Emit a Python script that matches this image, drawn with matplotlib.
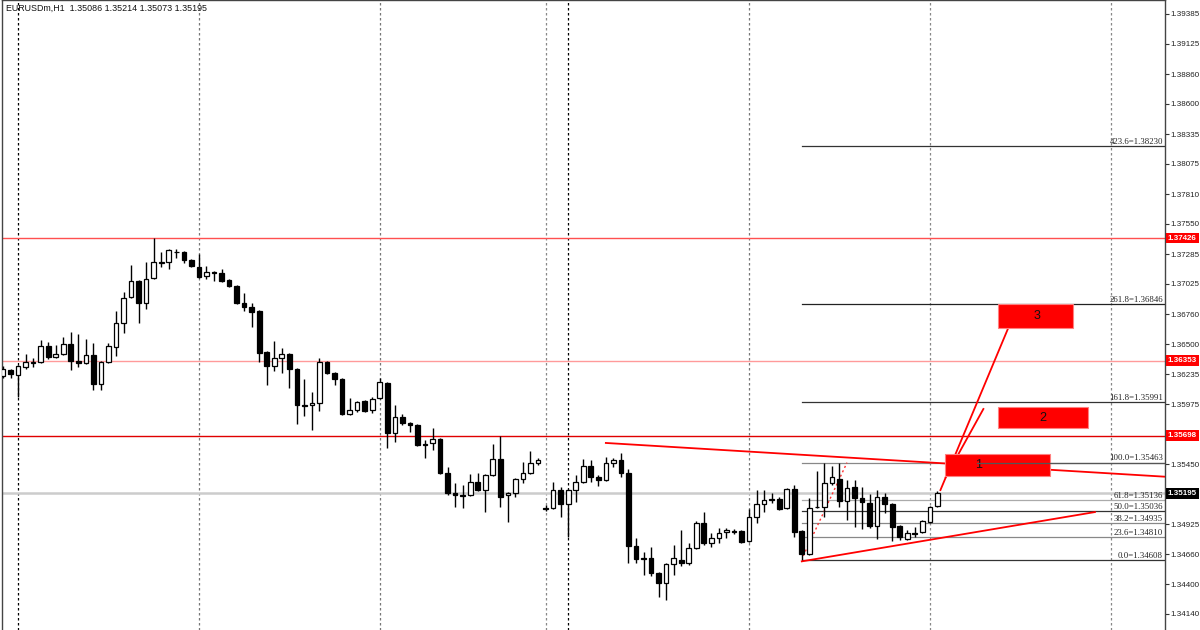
import numpy as np
import matplotlib
matplotlib.use('Agg')
import matplotlib.pyplot as plt
import matplotlib.transforms as mtransforms
from matplotlib.patches import Rectangle

plt.rcParams['font.family'] = ['Liberation Sans', 'DejaVu Sans']

symbol_title = "EURUSDm,H1  1.35086 1.35214 1.35073 1.35195"

opens = [1.36221, 1.36273, 1.36229, 1.36299, 1.36338, 1.36343, 1.36483, 1.36386, 1.36412, 1.36500,
         1.36351, 1.36334, 1.36403, 1.36150, 1.36343, 1.36474, 1.36684, 1.36911, 1.37051, 1.36859,
         1.37077, 1.37212, 1.37217, 1.37304, 1.37304, 1.37234, 1.37173, 1.37095, 1.37130, 1.37121,
         1.37060, 1.37008, 1.36859, 1.36824, 1.36788, 1.36430, 1.36308, 1.36377, 1.36412, 1.36281,
         1.35966, 1.35966, 1.35984, 1.36343, 1.36247, 1.36194, 1.35888, 1.35923, 1.36001, 1.35923,
         1.36028, 1.36159, 1.35722, 1.35862, 1.35809, 1.35792, 1.35626, 1.35634, 1.35669, 1.35372,
         1.35197, 1.35180, 1.35180, 1.35294, 1.35223, 1.35355, 1.35495, 1.35180, 1.35197, 1.35320,
         1.35372, 1.35460, 1.35066, 1.35066, 1.35223, 1.35101, 1.35223, 1.35294, 1.35433, 1.35337,
         1.35311, 1.35460, 1.35486, 1.35372, 1.34734, 1.34629, 1.34629, 1.34498, 1.34410, 1.34576,
         1.34611, 1.34585, 1.34716, 1.34935, 1.34760, 1.34804, 1.34856, 1.34865, 1.34865, 1.34778,
         1.34988, 1.35101, 1.35145, 1.35145, 1.35066, 1.35232, 1.34865, 1.34664, 1.35075, 1.35075,
         1.35285, 1.35320, 1.35127, 1.35250, 1.35153, 1.35110, 1.34909, 1.35162, 1.35101, 1.34909,
         1.34795, 1.34848, 1.34856, 1.34944, 1.35086]
highs = [1.36308, 1.36281, 1.36316, 1.36412, 1.36377, 1.36535, 1.36518, 1.36491, 1.36561, 1.36605,
         1.36587, 1.36544, 1.36509, 1.36351, 1.36509, 1.36788, 1.36955, 1.37190, 1.37060, 1.37217,
         1.37426, 1.37304, 1.37330, 1.37330, 1.37313, 1.37243, 1.37287, 1.37182, 1.37138, 1.37156,
         1.37069, 1.37016, 1.36946, 1.36859, 1.36797, 1.36438, 1.36526, 1.36465, 1.36421, 1.36290,
         1.36194, 1.36080, 1.36377, 1.36351, 1.36255, 1.36203, 1.36028, 1.36001, 1.36010, 1.36037,
         1.36203, 1.36168, 1.35966, 1.35888, 1.35818, 1.35800, 1.35661, 1.35765, 1.35678, 1.35424,
         1.35285, 1.35267, 1.35363, 1.35372, 1.35363, 1.35626, 1.35696, 1.35206, 1.35328, 1.35468,
         1.35564, 1.35503, 1.35093, 1.35294, 1.35250, 1.35232, 1.35355, 1.35495, 1.35486, 1.35355,
         1.35512, 1.35503, 1.35547, 1.35407, 1.34804, 1.34681, 1.34725, 1.34506, 1.34585, 1.34743,
         1.34874, 1.34760, 1.34952, 1.35031, 1.34848, 1.34891, 1.34891, 1.34883, 1.34874, 1.35058,
         1.35223, 1.35223, 1.35197, 1.35162, 1.35241, 1.35267, 1.34874, 1.35153, 1.35390, 1.35463,
         1.35433, 1.35460, 1.35311, 1.35311, 1.35250, 1.35188, 1.35223, 1.35197, 1.35110, 1.34918,
         1.34874, 1.34900, 1.34961, 1.35084, 1.35214]
lows = [1.36203, 1.36203, 1.36037, 1.36281, 1.36299, 1.36334, 1.36369, 1.36377, 1.36403, 1.36273,
        1.36299, 1.36325, 1.36098, 1.36098, 1.36334, 1.36395, 1.36596, 1.36902, 1.36684, 1.36806,
        1.37069, 1.37173, 1.37156, 1.37252, 1.37208, 1.37173, 1.37077, 1.37069, 1.37051, 1.37043,
        1.36999, 1.36850, 1.36788, 1.36649, 1.36343, 1.36141, 1.36264, 1.36247, 1.36115, 1.35800,
        1.35870, 1.35748, 1.35914, 1.36238, 1.36141, 1.35879, 1.35879, 1.35905, 1.35905, 1.35896,
        1.36019, 1.35591, 1.35643, 1.35792, 1.35731, 1.35608, 1.35503, 1.35573, 1.35363, 1.35180,
        1.35075, 1.35066, 1.35171, 1.35215, 1.35031, 1.35346, 1.35075, 1.34944, 1.35162, 1.35285,
        1.35363, 1.35442, 1.35040, 1.35058, 1.34988, 1.34813, 1.35118, 1.35285, 1.35294, 1.35258,
        1.35302, 1.35424, 1.35337, 1.34585, 1.34585, 1.34480, 1.34471, 1.34288, 1.34262, 1.34480,
        1.34559, 1.34568, 1.34708, 1.34743, 1.34725, 1.34760, 1.34804, 1.34839, 1.34760, 1.34769,
        1.34935, 1.35031, 1.35110, 1.35049, 1.35058, 1.34813, 1.34608, 1.34655, 1.35066, 1.34988,
        1.35267, 1.35075, 1.34961, 1.34900, 1.34883, 1.34891, 1.34795, 1.35023, 1.34778, 1.34786,
        1.34786, 1.34813, 1.34848, 1.34935, 1.35073]
closes = [1.36281, 1.36238, 1.36308, 1.36343, 1.36343, 1.36483, 1.36386, 1.36412, 1.36500, 1.36351,
          1.36334, 1.36403, 1.36150, 1.36343, 1.36483, 1.36684, 1.36902, 1.37051, 1.36859, 1.37069,
          1.37217, 1.37217, 1.37322, 1.37300, 1.37234, 1.37182, 1.37086, 1.37130, 1.37125, 1.37051,
          1.37008, 1.36859, 1.36824, 1.36780, 1.36421, 1.36308, 1.36377, 1.36412, 1.36281, 1.35966,
          1.35962, 1.35984, 1.36343, 1.36247, 1.36194, 1.35888, 1.35923, 1.35993, 1.35914, 1.36019,
          1.36168, 1.35722, 1.35862, 1.35809, 1.35796, 1.35617, 1.35621, 1.35669, 1.35372, 1.35197,
          1.35180, 1.35175, 1.35294, 1.35223, 1.35355, 1.35495, 1.35162, 1.35197, 1.35320, 1.35372,
          1.35460, 1.35486, 1.35062, 1.35223, 1.35101, 1.35223, 1.35294, 1.35433, 1.35337, 1.35311,
          1.35460, 1.35486, 1.35372, 1.34734, 1.34620, 1.34624, 1.34498, 1.34410, 1.34576, 1.34629,
          1.34585, 1.34716, 1.34935, 1.34760, 1.34804, 1.34848, 1.34874, 1.34861, 1.34769, 1.34988,
          1.35101, 1.35136, 1.35132, 1.35058, 1.35232, 1.34856, 1.34664, 1.35066, 1.35071, 1.35285,
          1.35337, 1.35127, 1.35241, 1.35153, 1.35118, 1.34909, 1.35162, 1.35101, 1.34900, 1.34813,
          1.34848, 1.34843, 1.34952, 1.35075, 1.35195]

price_ticks = [1.39385, 1.39125, 1.38860, 1.38600, 1.38335, 1.38075, 1.37810, 1.37550, 1.37285,
               1.37025, 1.36760, 1.36500, 1.36235, 1.35975, 1.35450, 1.34925, 1.34660, 1.34400, 1.34140]

# horizontal levels: price, line colour
h_levels = [1.37426, 1.36353, 1.35698]
h_colors = ['#ff5050', '#ff9a9a', '#e00000']
bid_price = 1.35195

# fibonacci expansion from swing low to swing high
fib_low_bar, fib_high_bar = 106, 112
fib_names = ['0.0', '23.6', '38.2', '50.0', '61.8', '100.0', '161.8', '261.8', '423.6']
fib_prices = [1.34608, 1.34810, 1.34935, 1.35036, 1.35136, 1.35463, 1.35991, 1.36846, 1.38230]
fib_colors = ['#333333', '#888888', '#888888', '#333333', '#aaaaaa', '#888888', '#333333', '#222222', '#333333']

# grid / day separators (bar index)
sep_bars = [2, 26, 50, 72, 75, 99, 123, 147]
sep_colors = ['#000000', '#777777', '#777777', '#888888', '#000000', '#777777', '#888888', '#888888']

# trend lines (bar, price) pairs
resist_line = [(80, 1.35635), (154.2, 1.35340)]
support_line = [(106, 1.34600), (144.9, 1.35031)]
target_lines = [[(124.4, 1.35223), (133.4, 1.36640)],
                [(125.1, 1.35337), (130.1, 1.35932)]]

# target boxes: label, bar from, bar to, price low, price high, text bar
boxes = [('1', 125.0, 139.0, 1.35346, 1.35538, 129.4),
         ('2', 132.0, 144.0, 1.35765, 1.35949, 138.0),
         ('3', 132.0, 142.0, 1.36640, 1.36850, 137.2)]

fig = plt.figure(figsize=(12, 6.3), dpi=100)
ax = fig.add_axes([2 / 1200, 0, 1163 / 1200, 1])
ax.set_xlim(-0.13, 154.2)
ax.set_ylim(1.34000, 1.39507)

o = np.array(opens)
h = np.array(highs)
l = np.array(lows)
c = np.array(closes)
x = np.arange(len(o))

for sb, sc in zip(sep_bars, sep_colors):
    ax.axvline(sb, color=sc, lw=0.9, ls=(0, (2, 2)), zorder=1)

for lv, col in zip(h_levels, h_colors):
    ax.axhline(lv, color=col, lw=1, zorder=1)
ax.axhline(bid_price, color='#cccccc', lw=1.8, zorder=1)

# fib levels
for name, fp, fc in zip(fib_names, fib_prices, fib_colors):
    ax.plot([fib_low_bar, 154.2], [fp, fp], color=fc, lw=0.9, zorder=2)
    ax.text(153.95, fp + 0.00004, f"{name}={fp:.5f}", ha='right', va='bottom',
            fontsize=6.3, family='Liberation Serif', color='#222222', zorder=3)
ax.plot([fib_low_bar + 0.2, fib_high_bar], [fib_prices[0] + 0.0004, fib_prices[5]],
        color='#ff3030', lw=1, ls=(0, (1.5, 2)), zorder=3)

# candles
up = c >= o
ax.vlines(x, l, h, color='black', lw=1, zorder=4)
body_lo = np.minimum(o, c)
body_h = np.maximum(np.abs(c - o), 0.000015)
ax.bar(x[up], body_h[up], bottom=body_lo[up], width=0.62, color='white',
       edgecolor='black', lw=0.9, zorder=5)
ax.bar(x[~up], body_h[~up], bottom=body_lo[~up], width=0.62, color='black',
       edgecolor='black', lw=0.9, zorder=5)

# trend lines
for line in [resist_line, support_line] + target_lines:
    ax.plot([p[0] for p in line], [p[1] for p in line], color='#ff0000', lw=1.3, zorder=6)

for lab, b0, b1, p0, p1, tb in boxes:
    ax.add_patch(Rectangle((b0, p0), b1 - b0, p1 - p0, facecolor='#ff0000',
                           edgecolor='#ff8080', lw=0.8, zorder=7))
    ax.text(tb, (p0 + p1) / 2, lab, ha='center', va='center', fontsize=9, color='#111111', zorder=8)
ax.plot([boxes[0][1] + 4.2, 154.2], [fib_prices[5], fib_prices[5]], color='#555555', lw=0.9, zorder=8)

ax.text(0.4, 1.39507 - 0.0007, symbol_title, ha='left', va='center', fontsize=6.4, color='#111111')

# right price axis
ax.yaxis.tick_right()
ax.set_yticks(price_ticks)
ax.set_yticklabels([f"{t:.5f}" for t in price_ticks])
ax.tick_params(axis='y', direction='out', length=3, width=0.8, pad=1.2, labelsize=5.8,
               color='#333333', labelcolor='#222222')
ax.set_xticks([])
ax.spines['bottom'].set_visible(False)
for side in ['left', 'right', 'top']:
    ax.spines[side].set_color('#444444')
    ax.spines[side].set_linewidth(1)

trans = mtransforms.blended_transform_factory(ax.transAxes, ax.transData)
for lv in h_levels:
    ax.text(1.0025, lv, f"{lv:.5f}", transform=trans, ha='left', va='center', fontsize=5.8,
            color='white', fontweight='bold',
            bbox=dict(facecolor='#ff0000', edgecolor='none', pad=1.4), clip_on=False)
ax.text(1.0025, bid_price, f"{bid_price:.5f}", transform=trans, ha='left', va='center', fontsize=5.8,
        color='white', fontweight='bold',
        bbox=dict(facecolor='black', edgecolor='none', pad=1.4), clip_on=False)

fig.savefig('out.png', dpi=100, facecolor='white')
